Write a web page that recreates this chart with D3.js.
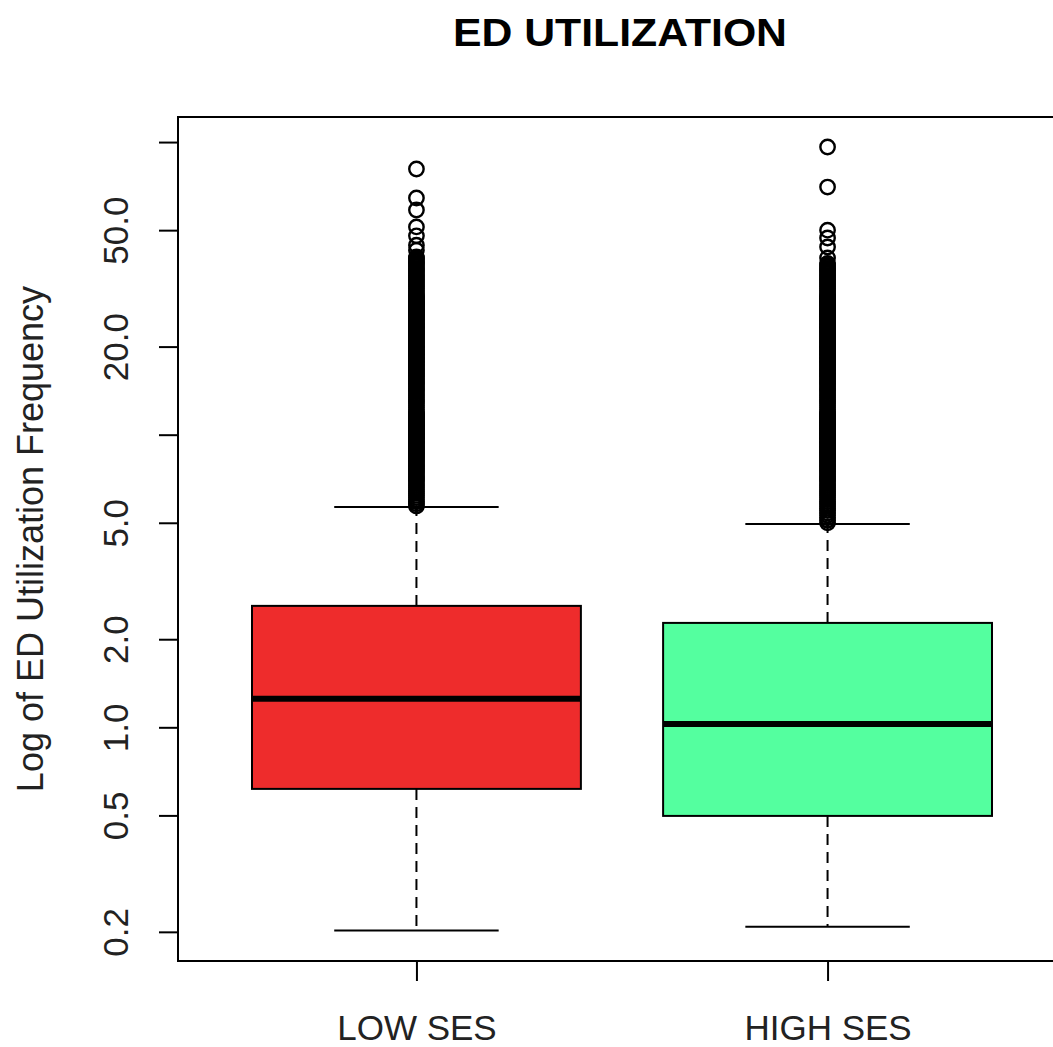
<!DOCTYPE html>
<html>
<head>
<meta charset="utf-8">
<script src="https://cdn.jsdelivr.net/npm/d3@7"></script>
<style>
  body { margin: 0; background: #fff; }
  svg { display: block; font-family: "Liberation Sans", Arial, sans-serif; }
</style>
</head>
<body>
<div id="chart"></div>
<script>
// boxplot statistics (log scale)
const groups = ["LOW SES", "HIGH SES"];
const boxColors = ["#EE2C2C", "#54FF9F"];
const whiskerLow = [0.202, 0.208];
const quart1 = [0.616, 0.498];
const medians = [1.251, 1.027];
const quart3 = [2.60, 2.274];
const whiskerHigh = [5.66, 4.955];

const lowSesOutliers = [
  5.7, 5.8, 5.9, 6.0, 6.1, 6.2, 6.3, 6.4, 6.5, 6.6, 6.7, 6.8, 6.9, 7.0, 7.1, 7.2, 7.3, 7.4, 7.5, 7.6,
  7.7, 7.8, 7.9, 8.0, 8.1, 8.2, 8.3, 8.4, 8.5, 8.6, 8.7, 8.8, 8.9, 9.0, 9.1, 9.2, 9.3, 9.4, 9.5, 9.6,
  9.7, 9.8, 9.9, 10.0, 10.1, 10.2, 10.3, 10.4, 10.5, 10.6, 10.7, 10.8, 10.9, 11.0, 11.1, 11.2, 11.3,
  11.4, 11.5, 11.6, 11.7, 11.8, 11.9, 12.0, 12.2, 12.4, 12.6, 12.8, 13.0, 13.2, 13.4, 13.6, 13.8, 14.0,
  14.2, 14.4, 14.6, 14.8, 15.0, 15.2, 15.4, 15.6, 15.8, 16.0, 16.2, 16.4, 16.6, 16.8, 17.0, 17.2, 17.4,
  17.6, 17.8, 18.0, 18.2, 18.4, 18.6, 18.8, 19.0, 19.2, 19.4, 19.6, 19.8, 20.0, 20.25, 20.5, 20.75, 21,
  21.25, 21.5, 21.75, 22, 22.25, 22.5, 22.75, 23, 23.25, 23.5, 23.75, 24, 24.25, 24.5, 24.75, 25, 25.25,
  25.5, 25.75, 26, 26.25, 26.5, 26.75, 27, 27.25, 27.5, 27.75, 28, 28.25, 28.5, 28.75, 29, 29.25, 29.5,
  29.75, 30, 30.5, 31, 31.5, 32, 32.5, 33, 33.5, 34, 34.5, 35, 35.5, 36, 36.5, 37, 37.5, 38, 38.5, 39,
  39.5, 40, 40.5, 42.7, 44.4, 47.8, 51.3, 58.6, 64.4, 80.9
];
const highSesOutliers = [
  5.0, 5.1, 5.2, 5.3, 5.4, 5.5, 5.6,
  5.7, 5.8, 5.9, 6.0, 6.1, 6.2, 6.3, 6.4, 6.5, 6.6, 6.7, 6.8, 6.9, 7.0, 7.1, 7.2, 7.3, 7.4, 7.5, 7.6,
  7.7, 7.8, 7.9, 8.0, 8.1, 8.2, 8.3, 8.4, 8.5, 8.6, 8.7, 8.8, 8.9, 9.0, 9.1, 9.2, 9.3, 9.4, 9.5, 9.6,
  9.7, 9.8, 9.9, 10.0, 10.1, 10.2, 10.3, 10.4, 10.5, 10.6, 10.7, 10.8, 10.9, 11.0, 11.1, 11.2, 11.3,
  11.4, 11.5, 11.6, 11.7, 11.8, 11.9, 12.0, 12.2, 12.4, 12.6, 12.8, 13.0, 13.2, 13.4, 13.6, 13.8, 14.0,
  14.2, 14.4, 14.6, 14.8, 15.0, 15.2, 15.4, 15.6, 15.8, 16.0, 16.2, 16.4, 16.6, 16.8, 17.0, 17.2, 17.4,
  17.6, 17.8, 18.0, 18.2, 18.4, 18.6, 18.8, 19.0, 19.2, 19.4, 19.6, 19.8, 20.0, 20.25, 20.5, 20.75, 21,
  21.25, 21.5, 21.75, 22, 22.25, 22.5, 22.75, 23, 23.25, 23.5, 23.75, 24, 24.25, 24.5, 24.75, 25, 25.25,
  25.5, 25.75, 26, 26.25, 26.5, 26.75, 27, 27.25, 27.5, 27.75, 28, 28.25, 28.5, 28.75, 29, 29.25, 29.5,
  29.75, 30, 30.5, 31, 31.5, 32, 32.5, 33, 33.5, 34, 34.5, 35, 35.5, 36, 36.5, 37, 37.5, 38, 38.5,
  40.2, 43.8, 47.0, 50.0, 70.2, 96.2
];
const outliers = [lowSesOutliers, highSesOutliers];

const yTicks = [0.2, 0.5, 1, 2, 5, 10, 20, 50, 100];
const yTickLabels = ["0.2", "0.5", "1.0", "2.0", "5.0", "", "20.0", "50.0", ""];

const W = 1053, H = 1047;
const plot = { left: 178, top: 117, right: 1066, bottom: 961 };

const svg = d3.select("#chart").append("svg")
    .attr("width", W)
    .attr("height", H);

// scales
const x = d3.scaleLinear().domain([0.42, 2.58]).range([plot.left, plot.right]);
const y = d3.scaleLog().domain([0.159, 121.8]).range([plot.bottom, plot.top]);

const boxData = groups.map((g, i) => ({
    name: g, pos: i + 1, fill: boxColors[i],
    lo: whiskerLow[i], q1: quart1[i], med: medians[i], q3: quart3[i], hi: whiskerHigh[i],
    out: outliers[i]
}));

const halfBox = 0.4, halfCap = 0.2;

// dashed whiskers
const boxes = svg.selectAll(".box").data(boxData).join("g").attr("class", "box");

boxes.append("line")
    .attr("x1", d => x(d.pos)).attr("x2", d => x(d.pos))
    .attr("y1", d => y(d.q3)).attr("y2", d => y(d.hi))
    .attr("stroke", "#000").attr("stroke-width", 2).attr("stroke-dasharray", "11,7");
boxes.append("line")
    .attr("x1", d => x(d.pos)).attr("x2", d => x(d.pos))
    .attr("y1", d => y(d.q1)).attr("y2", d => y(d.lo))
    .attr("stroke", "#000").attr("stroke-width", 2).attr("stroke-dasharray", "11,7");

// staples
boxes.append("line")
    .attr("x1", d => x(d.pos - halfCap)).attr("x2", d => x(d.pos + halfCap))
    .attr("y1", d => y(d.hi)).attr("y2", d => y(d.hi))
    .attr("stroke", "#000").attr("stroke-width", 2);
boxes.append("line")
    .attr("x1", d => x(d.pos - halfCap)).attr("x2", d => x(d.pos + halfCap))
    .attr("y1", d => y(d.lo)).attr("y2", d => y(d.lo))
    .attr("stroke", "#000").attr("stroke-width", 2);

// boxes
boxes.append("rect")
    .attr("x", d => x(d.pos - halfBox))
    .attr("width", d => x(d.pos + halfBox) - x(d.pos - halfBox))
    .attr("y", d => y(d.q3))
    .attr("height", d => y(d.q1) - y(d.q3))
    .attr("fill", d => d.fill)
    .attr("stroke", "#000").attr("stroke-width", 2);

// medians
boxes.append("line")
    .attr("x1", d => x(d.pos - halfBox)).attr("x2", d => x(d.pos + halfBox))
    .attr("y1", d => y(d.med)).attr("y2", d => y(d.med))
    .attr("stroke", "#000").attr("stroke-width", 6);

// outliers as open circles
boxes.selectAll(".out")
    .data(d => d.out.map(v => ({ pos: d.pos, v: v })))
    .join("circle")
    .attr("class", "out")
    .attr("cx", d => x(d.pos))
    .attr("cy", d => y(d.v))
    .attr("r", 7.2)
    .attr("fill", "none")
    .attr("stroke", "#000")
    .attr("stroke-width", 2.4);

// frame
svg.append("rect")
    .attr("x", plot.left).attr("y", plot.top)
    .attr("width", plot.right - plot.left).attr("height", plot.bottom - plot.top)
    .attr("fill", "none").attr("stroke", "#000").attr("stroke-width", 2);

// y axis
const yAxis = svg.append("g")
    .attr("transform", `translate(${plot.left},0)`)
    .call(d3.axisLeft(y).tickValues(yTicks).tickFormat((d, i) => yTickLabels[i]).tickSize(19));
yAxis.select(".domain").remove();
yAxis.selectAll(".tick line").attr("stroke", "#000").attr("stroke-width", 2);
yAxis.selectAll(".tick text")
    .attr("x", 0).attr("y", -50).attr("dy", null)
    .attr("transform", "rotate(-90)")
    .attr("text-anchor", "middle")
    .attr("fill", "#222")
    .style("font-size", "35px")
    .style("font-family", "Liberation Sans, Arial, sans-serif");

// x axis
const xAxis = svg.append("g")
    .attr("transform", `translate(0,${plot.bottom})`)
    .call(d3.axisBottom(x).tickValues([1, 2]).tickFormat((d, i) => groups[i]).tickSize(20).tickPadding(0));
xAxis.select(".domain").remove();
xAxis.selectAll(".tick line").attr("stroke", "#000").attr("stroke-width", 2);
xAxis.selectAll(".tick text")
    .attr("y", 79).attr("dy", null)
    .attr("fill", "#222")
    .style("font-size", "35px")
    .style("font-family", "Liberation Sans, Arial, sans-serif");

// y label
svg.append("text")
    .attr("transform", `translate(43,${(plot.top + plot.bottom) / 2}) rotate(-90)`)
    .attr("text-anchor", "middle")
    .attr("fill", "#222")
    .style("font-size", "36px")
    .text("Log of ED Utilization Frequency");

// title
svg.append("text")
    .attr("x", 453).attr("y", 46)
    .attr("textLength", 334)
    .attr("lengthAdjust", "spacingAndGlyphs")
    .style("font-size", "38px")
    .style("font-weight", "bold")
    .text("ED UTILIZATION");
</script>
</body>
</html>
